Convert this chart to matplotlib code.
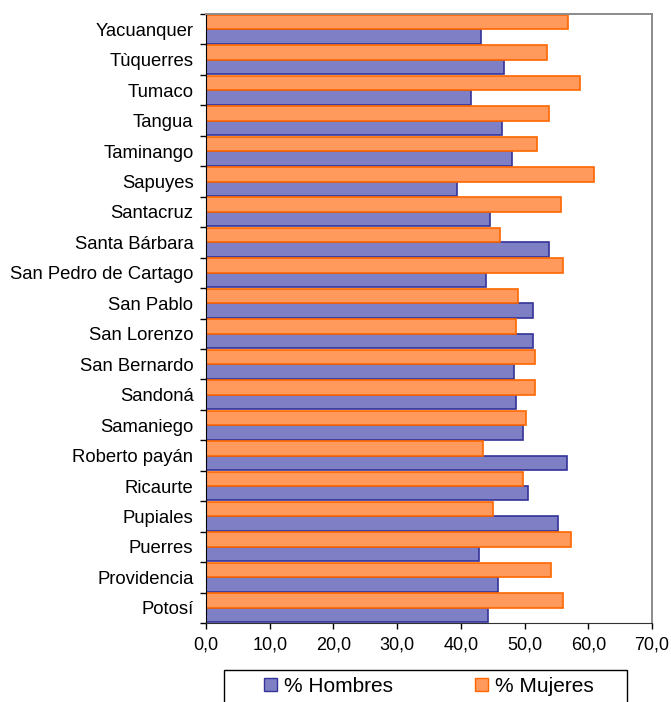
import numpy as np
import matplotlib.pyplot as plt
from matplotlib.patches import Patch, Rectangle
from matplotlib.ticker import FuncFormatter, FixedLocator

plt.rcParams['font.family'] = ['Liberation Sans', 'DejaVu Sans']

# categories listed bottom to top
municipios = ['Potosí', 'Providencia', 'Puerres', 'Pupiales', 'Ricaurte',
              'Roberto payán', 'Samaniego', 'Sandoná', 'San Bernardo', 'San Lorenzo',
              'San Pablo', 'San Pedro de Cartago', 'Santa Bárbara', 'Santacruz', 'Sapuyes',
              'Taminango', 'Tangua', 'Tumaco', 'Tùquerres', 'Yacuanquer']
hombres = [44.3, 45.9, 42.9, 55.2, 50.5,
           56.7, 49.7, 48.6, 48.4, 51.3,
           51.3, 44.0, 53.8, 44.6, 39.4,
           48.1, 46.4, 41.6, 46.7, 43.2]
mujeres = [56.0, 54.1, 57.3, 45.1, 49.7,
           43.5, 50.3, 51.6, 51.6, 48.6,
           48.9, 56.0, 46.2, 55.7, 60.9,
           51.9, 53.8, 58.7, 53.5, 56.8]
xticks = [0, 10, 20, 30, 40, 50, 60, 70]

fig = plt.figure(figsize=(6.71, 7.02), dpi=100)
ax = fig.add_axes([0.307, 0.1125, 0.6647, 0.8675])

y = np.arange(len(municipios))
h = 0.475
ax.barh(y - h / 2, hombres, height=h, color='#7F7FC6', edgecolor='#333399',
        linewidth=1.2, label='% Hombres')
ax.barh(y + h / 2, mujeres, height=h, color='#FF9A5C', edgecolor='#FF6600',
        linewidth=1.2, label='% Mujeres')

ax.set_xlim(0, 70)
ax.set_ylim(-0.5, len(municipios) - 0.5)
ax.set_xticks(xticks)
ax.xaxis.set_major_formatter(FuncFormatter(lambda v, p: f'{v:.1f}'.replace('.', ',')))
ax.tick_params(axis='x', direction='out', length=4, width=1, pad=6, labelsize=13)

# labels at category centres, tick marks at category boundaries
ax.set_yticks(y)
ax.set_yticklabels(municipios, fontsize=13.3)
ax.tick_params(axis='y', which='major', length=0, pad=9)
ax.yaxis.set_minor_locator(FixedLocator(np.arange(-0.5, len(municipios), 1.0)))
ax.tick_params(axis='y', which='minor', direction='out', length=4, width=1)

for side in ['top', 'right']:
    ax.spines[side].set_color('#8C8C8C')
    ax.spines[side].set_linewidth(1.4)
ax.spines['left'].set_color('black')
ax.spines['bottom'].set_color('#333333')

# legend box (runs off the bottom edge)
fig.patches.append(Rectangle((224 / 671, -0.01), (627 - 224) / 671, 0.01 + 32 / 702,
                             transform=fig.transFigure, fill=False,
                             edgecolor='black', linewidth=1.0))
handles = [Patch(facecolor='#7F7FC6', edgecolor='#333399', label='% Hombres'),
           Patch(facecolor='#FF9A5C', edgecolor='#FF6600', label='% Mujeres')]
fig.legend(handles=handles, loc='center left', ncol=2,
           bbox_to_anchor=(264 / 671, 1 - 686 / 702), bbox_transform=fig.transFigure,
           fontsize=15, frameon=False, borderpad=0, borderaxespad=0,
           handlelength=0.6, handleheight=0.6, handletextpad=0.35,
           columnspacing=3.95)

fig.savefig('out.png', dpi=100)
